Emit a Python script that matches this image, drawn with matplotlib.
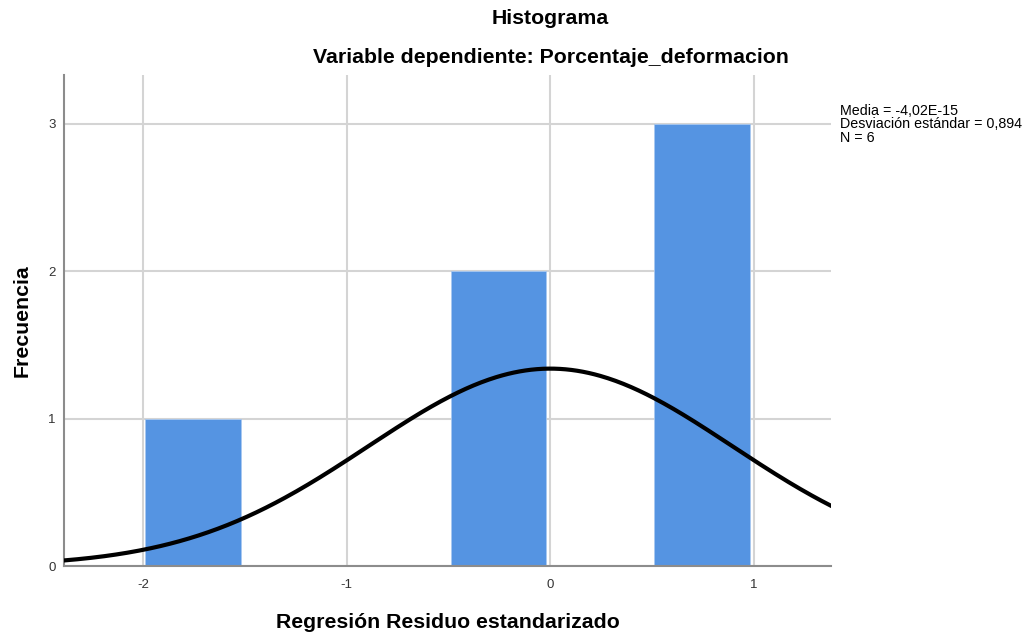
import matplotlib
matplotlib.use('Agg')
import numpy as np
import matplotlib.pyplot as plt

plt.rcParams['font.family'] = ['Liberation Sans', 'DejaVu Sans']
plt.rcParams['axes.unicode_minus'] = False

# histogram bins (residuo estandarizado) and counts
bin_left = [-2.0, -0.5, 0.5]
bin_width = 0.5
counts = [1, 2, 3]

media = -4.02e-15
desv = 0.894
n = 6

xticks = [-2, -1, 0, 1]
yticks = [0, 1, 2, 3]

fig = plt.figure(figsize=(10.27, 6.33), dpi=100)
ax = fig.add_axes([0.0623, 0.1058, 0.7468, 0.7757])

ax.set_xlim(-2.387, 1.377)
ax.set_ylim(0, 3.33)

ax.set_axisbelow(True)
ax.grid(True, color='#d4d4d4', lw=1.5)

ax.bar([b + 0.01 for b in bin_left], counts, width=bin_width - 0.03, align='edge',
       color='#5594e2', edgecolor='#a8c8f0', linewidth=0.6, zorder=2)

xs = np.linspace(-2.387, 1.377, 400)
pdf = n * bin_width / (desv * np.sqrt(2 * np.pi)) * np.exp(-0.5 * ((xs - media) / desv) ** 2)
ax.plot(xs, pdf, color='black', lw=3, zorder=3)

ax.set_xticks(xticks)
ax.set_yticks(yticks)
ax.tick_params(axis='x', length=0, labelsize=9.5, colors='#333333', pad=9)
ax.tick_params(axis='y', length=0, labelsize=9.5, colors='#333333', pad=6)
for s in ['top', 'right']:
    ax.spines[s].set_visible(False)
for s in ['left', 'bottom']:
    ax.spines[s].set_color('#8c8c8c')
    ax.spines[s].set_linewidth(1.5)

ax.set_xlabel('Regresión Residuo estandarizado', fontsize=15.3, fontweight='bold', labelpad=16)
ax.set_ylabel('Frecuencia', fontsize=15.3, fontweight='bold', labelpad=12)

fig.text(0.536, 0.971, 'Histograma', ha='center', va='center', fontsize=15.3, fontweight='bold')
fig.text(0.536, 0.909, 'Variable dependiente: Porcentaje_deformacion', ha='center', va='center',
         fontsize=15.3, fontweight='bold')

fig.text(0.818, 0.836, 'Media = -4,02E-15\nDesviación estándar = 0,894\nN = 6',
         ha='left', va='top', fontsize=10.3, linespacing=0.95)

fig.savefig('out.png', dpi=100)
